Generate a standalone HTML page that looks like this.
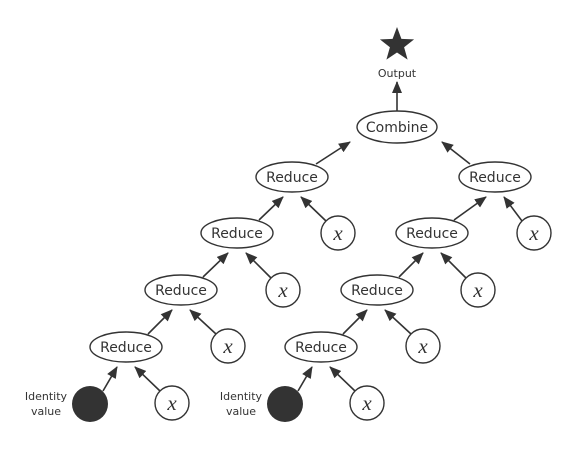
<!DOCTYPE html>
<html><head><meta charset="utf-8"><style>
html,body{margin:0;padding:0;background:#fff;width:580px;height:450px;overflow:hidden}
svg text{font-family:"DejaVu Sans","Liberation Sans",sans-serif;fill:#333}
</style></head><body>
<svg width="580" height="450" viewBox="0 0 580 450" xmlns="http://www.w3.org/2000/svg">
<defs><marker id="a" markerUnits="userSpaceOnUse" markerWidth="12" markerHeight="10" refX="11" refY="5" orient="auto"><path d="M0,0 L12,5 L0,10 z" fill="#333"/></marker></defs>
<g stroke="#333" stroke-width="1.6" marker-end="url(#a)">
<line x1="103" y1="391" x2="117" y2="367"/><line x1="160" y1="391" x2="135" y2="367"/>
<line x1="148" y1="334" x2="172" y2="310"/><line x1="216" y1="334" x2="190" y2="310"/>
<line x1="203" y1="277" x2="228" y2="253"/><line x1="271" y1="278" x2="246" y2="253"/>
<line x1="259" y1="220" x2="283" y2="197"/><line x1="326" y1="221" x2="301" y2="197"/>
<line x1="316" y1="164" x2="350" y2="142"/>
<line x1="298" y1="391" x2="312" y2="367"/><line x1="355" y1="391" x2="330" y2="367"/>
<line x1="343" y1="334" x2="367" y2="310"/><line x1="411" y1="334" x2="385" y2="310"/>
<line x1="399" y1="277" x2="423" y2="253"/><line x1="466" y1="278" x2="441" y2="253"/>
<line x1="454" y1="220" x2="486" y2="197"/><line x1="522" y1="221" x2="504" y2="197"/>
<line x1="470" y1="164" x2="442" y2="142"/>
<line x1="397" y1="111" x2="397" y2="82"/>
</g>
<polygon points="397,27 401.4,38.9 414.1,39.4 404.1,47.3 407.6,59.6 397,52.5 386.4,59.6 389.9,47.3 379.9,39.4 392.6,38.9" fill="#333"/>
<text x="397" y="77" font-size="11" text-anchor="middle">Output</text>
<g fill="#fff" stroke="#333" stroke-width="1.4">
<ellipse cx="397" cy="127" rx="40" ry="16"/>
<ellipse cx="126" cy="347" rx="36" ry="15"/><ellipse cx="181" cy="290" rx="36" ry="15"/><ellipse cx="237" cy="233" rx="36" ry="15"/><ellipse cx="292" cy="177" rx="36" ry="15"/>
<ellipse cx="321" cy="347" rx="36" ry="15"/><ellipse cx="377" cy="290" rx="36" ry="15"/><ellipse cx="432" cy="233" rx="36" ry="15"/><ellipse cx="495" cy="177" rx="36" ry="15"/>
<circle cx="172" cy="403" r="17"/><circle cx="228" cy="346" r="17"/><circle cx="283" cy="290" r="17"/><circle cx="338" cy="233" r="17"/>
<circle cx="367" cy="403" r="17"/><circle cx="423" cy="346" r="17"/><circle cx="478" cy="290" r="17"/><circle cx="534" cy="233" r="17"/>
</g>
<circle cx="90" cy="404" r="18" fill="#333"/><circle cx="285" cy="404" r="18" fill="#333"/>
<g font-size="14" text-anchor="middle">
<text x="397" y="132">Combine</text>
<text x="126" y="352">Reduce</text><text x="181" y="295">Reduce</text><text x="237" y="238">Reduce</text><text x="292" y="182">Reduce</text>
<text x="321" y="352">Reduce</text><text x="377" y="295">Reduce</text><text x="432" y="238">Reduce</text><text x="495" y="182">Reduce</text>
</g>
<g font-size="21" font-style="italic" text-anchor="middle" style="font-family:'Liberation Serif',serif">
<text x="172" y="410" style="font-family:'Liberation Serif',serif">x</text><text x="228" y="353" style="font-family:'Liberation Serif',serif">x</text><text x="283" y="297" style="font-family:'Liberation Serif',serif">x</text><text x="338" y="240" style="font-family:'Liberation Serif',serif">x</text>
<text x="367" y="410" style="font-family:'Liberation Serif',serif">x</text><text x="423" y="353" style="font-family:'Liberation Serif',serif">x</text><text x="478" y="297" style="font-family:'Liberation Serif',serif">x</text><text x="534" y="240" style="font-family:'Liberation Serif',serif">x</text>
</g>
<g font-size="11" text-anchor="middle">
<text x="46" y="400">Identity</text><text x="46" y="415">value</text>
<text x="241" y="400">Identity</text><text x="241" y="415">value</text>
</g>
</svg>
</body></html>
